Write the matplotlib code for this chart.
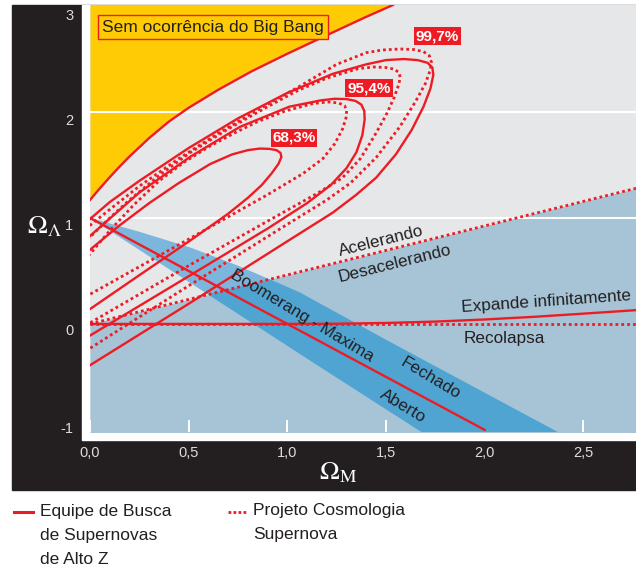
import matplotlib
matplotlib.use('Agg')
import matplotlib.pyplot as plt
from matplotlib.patches import Rectangle, Polygon
from matplotlib.lines import Line2D
from matplotlib.transforms import ScaledTranslation

plt.rcParams['mathtext.fontset'] = 'stix'
FONT = ['Liberation Sans Narrow', 'Liberation Sans', 'DejaVu Sans']

# cores
RED = '#ed1c24'
DARK = '#231f20'
GRAY = '#e6e7e8'
YELLOW = '#ffcb05'
LBLUE = '#a6c4d6'
BAND1 = '#7db6dc'
BAND2 = '#50a4d2'

# eixos
x_ticks = [0.0, 0.5, 1.0, 1.5, 2.0, 2.5]
x_labels = ['0,0', '0,5', '1,0', '1,5', '2,0', '2,5']
y_ticks = [-1, 0, 1, 2, 3]
y_labels = ['-1', '0', '1', '2', '3']

# limite "sem Big Bang"
bb_x = [0.0, 0.05, 0.10, 0.15, 0.20, 0.30, 0.40, 0.50, 0.65, 0.82, 1.00, 1.20, 1.39, 1.535]
bb_y = [1.17, 1.28, 1.385, 1.485, 1.58, 1.755, 1.91, 2.04, 2.21, 2.385, 2.55, 2.725, 2.89, 3.01]

# acelerando / desacelerando
acc_x = [0.0, 2.767]
acc_y = [0.0, 1.28]

# expande / recolapsa
exp_x = [0.0, 1.0, 1.25, 1.5, 1.75, 2.0, 2.25, 2.5, 2.767]
exp_y = [0.0, 0.0, 0.002, 0.009, 0.022, 0.042, 0.067, 0.097, 0.13]
rec_x = [0.0, 2.767]
rec_y = [0.0, 0.0]

# universo plano
flat_x = [0.0, 2.0]
flat_y = [1.0, -1.0]

# faixa Boomerang - Maxima
band_up_x = [0.0, 0.25, 0.51, 0.75, 1.06, 1.5, 2.37]
band_up_y = [1.0, 0.87, 0.72, 0.55, 0.30, -0.15, -1.02]
band_lo_x = [0.0, 1.165, 1.68]
band_lo_y = [1.0, -0.405, -1.02]

# Equipe de Busca de Supernovas de Alto Z (linhas cheias)
s68_x = [-0.10, 0.0, 0.25, 0.51, 0.70, 0.80, 0.87, 0.92, 0.955, 0.97, 0.965, 0.945, 0.91, 0.86, 0.80, 0.72,
         0.61, 0.45, 0.30, 0.15, 0.0, -0.10]
s68_y = [0.01, 0.14, 0.46, 0.79, 1.04, 1.19, 1.31, 1.42, 1.51, 1.575, 1.615, 1.64, 1.652, 1.655, 1.64, 1.60,
         1.51, 1.33, 1.14, 0.93, 0.70, 0.55]
s95_x = [-0.10, 0.0, 0.50, 0.90, 1.10, 1.22, 1.30, 1.35, 1.38, 1.392, 1.39, 1.375, 1.345, 1.30, 1.24, 1.17,
         1.01, 0.76, 0.51, 0.25, 0.0, -0.10]
s95_y = [-0.23, -0.11, 0.45, 0.90, 1.14, 1.31, 1.47, 1.62, 1.78, 1.93, 2.01, 2.07, 2.105, 2.122, 2.125, 2.11,
         2.05, 1.86, 1.58, 1.24, 0.83, 0.66]
s99_x = [-0.10, 0.0, 0.50, 1.00, 1.23, 1.35, 1.45, 1.55, 1.63, 1.69, 1.725, 1.74, 1.735, 1.71, 1.66, 1.59,
         1.50, 1.40, 1.23, 1.00, 0.75, 0.50, 0.25, 0.10, 0.0, -0.10]
s99_y = [-0.51, -0.39, 0.19, 0.78, 1.05, 1.22, 1.38, 1.60, 1.83, 2.05, 2.22, 2.35, 2.42, 2.465, 2.49, 2.50,
         2.49, 2.45, 2.36, 2.18, 1.94, 1.66, 1.35, 1.15, 0.99, 0.82]

# Projeto Cosmologia Supernova (linhas pontilhadas)
d68_x = [-0.10, 0.0, 0.50, 0.90, 1.08, 1.18, 1.24, 1.28, 1.30, 1.30, 1.29, 1.26, 1.21, 1.13,
         0.99, 0.85, 0.73, 0.60, 0.48, 0.35, 0.22, 0.10, 0.0, -0.10]
d68_y = [0.17, 0.28, 0.80, 1.22, 1.42, 1.56, 1.70, 1.84, 1.96, 2.02, 2.06, 2.085, 2.095, 2.08,
         2.01, 1.91, 1.80, 1.67, 1.53, 1.35, 1.12, 0.88, 0.66, 0.42]
d95_x = [-0.10, 0.0, 0.50, 0.90, 1.15, 1.28, 1.37, 1.44, 1.50, 1.54, 1.565, 1.572, 1.565, 1.54, 1.50, 1.44,
         1.36, 1.20, 1.05, 0.90, 0.70, 0.51, 0.35, 0.20, 0.10, 0.0, -0.10]
d95_y = [-0.10, 0.01, 0.55, 0.97, 1.23, 1.38, 1.56, 1.77, 1.97, 2.13, 2.26, 2.33, 2.375, 2.405, 2.42, 2.425,
         2.41, 2.32, 2.20, 2.05, 1.84, 1.62, 1.40, 1.17, 1.00, 0.82, 0.62]
d99_x = [-0.10, 0.0, 0.50, 1.00, 1.20, 1.32, 1.45, 1.57, 1.65, 1.70, 1.725, 1.73, 1.72, 1.69, 1.64, 1.57,
         1.48, 1.40, 1.25, 1.06, 0.85, 0.65, 0.45, 0.25, 0.10, 0.0, -0.10]
d99_y = [-0.34, -0.23, 0.36, 0.94, 1.17, 1.33, 1.57, 1.86, 2.10, 2.27, 2.40, 2.47, 2.53, 2.57, 2.59, 2.595,
         2.585, 2.56, 2.45, 2.24, 2.02, 1.80, 1.56, 1.30, 1.08, 0.93, 0.76]

W, H = 636, 570
fig = plt.figure(figsize=(W / 100, H / 100), dpi=100)


def fx(px):
    return px / W


def fy(py):
    return 1 - py / H


# moldura preta e faixa branca
fig.patches.append(Rectangle((fx(12), fy(490)), fx(636) - fx(12), fy(5) - fy(490),
                             transform=fig.transFigure, color=DARK, zorder=-2))
fig.patches.append(Rectangle((fx(82), fy(440)), fx(636) - fx(82), fy(5) - fy(440),
                             transform=fig.transFigure, color='white', zorder=-1))

ax = fig.add_axes([fx(90), fy(432), 1 - fx(90), fy(5) - fy(432)])
ax.set_zorder(2)
ax.set_xlim(0, 2.767)
ax.set_ylim(-1.02, 3.01)
ax.set_facecolor(GRAY)
for s in ax.spines.values():
    s.set_visible(False)

# regioes
ax.fill_between(acc_x, -1.2, acc_y, color=LBLUE, lw=0, zorder=1)
ax.fill_between(bb_x, bb_y, 3.2, color=YELLOW, lw=0, zorder=1)
band_pts = list(zip(band_up_x, band_up_y)) + list(zip(band_lo_x, band_lo_y))[::-1]
ax.add_patch(Polygon(band_pts, closed=True, color=BAND1, lw=0, zorder=2))
decel = Polygon([(acc_x[0], acc_y[0]), (acc_x[1], acc_y[1]), (acc_x[1], -1.2), (acc_x[0], -1.2)],
                closed=True, transform=ax.transData)
band2 = Polygon(band_pts, closed=True, color=BAND2, lw=0, zorder=2)
ax.add_patch(band2)
band2.set_clip_path(decel)

ax.axhline(1, color='white', lw=1.5, zorder=3)
ax.axhline(2, color='white', lw=1.5, zorder=3)

# linhas
lw = 1.7
dots = dict(color=RED, lw=2.0, ls=(0, (1, 1.1)), dash_capstyle='butt', zorder=5)
ax.plot(bb_x, bb_y, color=RED, lw=lw, zorder=5)
ax.plot(acc_x, acc_y, **dots)
ax.plot(exp_x, exp_y, color=RED, lw=lw, zorder=5)
ax.plot(rec_x, rec_y, **dots)
ax.plot(flat_x, flat_y, color=RED, lw=lw, zorder=5)
for cx, cy in [(s68_x, s68_y), (s95_x, s95_y), (s99_x, s99_y)]:
    ax.plot(cx, cy, color=RED, lw=lw, zorder=5, solid_joinstyle='round')
for cx, cy in [(d68_x, d68_y), (d95_x, d95_y), (d99_x, d99_y)]:
    ax.plot(cx, cy, **dots)

# ticks
ax.set_xticks(x_ticks, x_labels)
ax.set_yticks(y_ticks, y_labels)
ax.tick_params(axis='x', direction='in', length=8.5, width=1.4, color='white',
               pad=10, labelsize=10.5, labelcolor='#dcdcdc')
ax.tick_params(axis='y', length=0, pad=12, labelsize=10.5, labelcolor='#dcdcdc')
for lbl in ax.get_xticklabels() + ax.get_yticklabels():
    lbl.set_family(FONT)
for lbl, dy in zip(ax.get_yticklabels(), [2, -6, -7, -7, -8]):
    lbl.set_transform(lbl.get_transform() + ScaledTranslation(0, dy / 100, fig.dpi_scale_trans))

ax.set_ylabel(r'$\Omega_\Lambda$', rotation=0, color='white', fontsize=19, ha='center', va='center')
ax.yaxis.set_label_coords(-0.084, 0.482)
ax.set_xlabel(r'$\Omega_{\rm M}$', color='white', fontsize=19, ha='center', va='center')
ax.xaxis.set_label_coords(0.454, -0.094)

# textos
ax.text(0.623, 2.80, 'Sem ocorrência do Big Bang', family=FONT, fontsize=12.5, color=DARK,
        ha='center', va='center', zorder=6,
        bbox=dict(boxstyle='square,pad=0.25', fc=YELLOW, ec=RED, lw=1))
for x, y, t in [(1.034, 1.755, '68,3%'), (1.414, 2.226, '95,4%'), (1.759, 2.717, '99,7%')]:
    ax.text(x, y, t, family=FONT, fontsize=11, fontweight='bold', color='white',
            ha='center', va='center', zorder=6,
            bbox=dict(boxstyle='square,pad=0.12', fc=RED, ec='none'))

tkw = dict(family=FONT, fontsize=12.3, color=DARK, ha='center', va='center',
           rotation_mode='anchor', zorder=6)
ax.text(1.475, 0.783, 'Acelerando', rotation=14, **tkw)
ax.text(1.546, 0.566, 'Desacelerando', rotation=14, **tkw)
ax.text(2.311, 0.208, 'Expande infinitamente', rotation=4, **tkw)
ax.text(2.098, -0.142, 'Recolapsa', **tkw)
ax.text(1.075, 0.075, 'Boomerang - Maxima', rotation=-31, **tkw)
ax.text(1.728, -0.509, 'Fechado', rotation=-31, **tkw)
ax.text(1.586, -0.774, 'Aberto', rotation=-31, **tkw)

# legenda
fig.add_artist(Line2D([fx(14), fx(33)], [fy(512), fy(512)], color=RED, lw=2.2))
fig.add_artist(Line2D([fx(228), fx(246)], [fy(512), fy(512)], color=RED, lw=2.0,
                      ls=(0, (1, 0.8)), dash_capstyle='butt'))
fig.text(fx(40), fy(504), 'Equipe de Busca\nde Supernovas\nde Alto Z', family=FONT,
         fontsize=12.5, color=DARK, ha='left', va='top', linespacing=1.77)
fig.text(fx(253), fy(503), 'Projeto Cosmologia\nSupernova', family=FONT,
         fontsize=12.5, color=DARK, ha='left', va='top', linespacing=1.77)

fig.savefig('out.png', dpi=100)
